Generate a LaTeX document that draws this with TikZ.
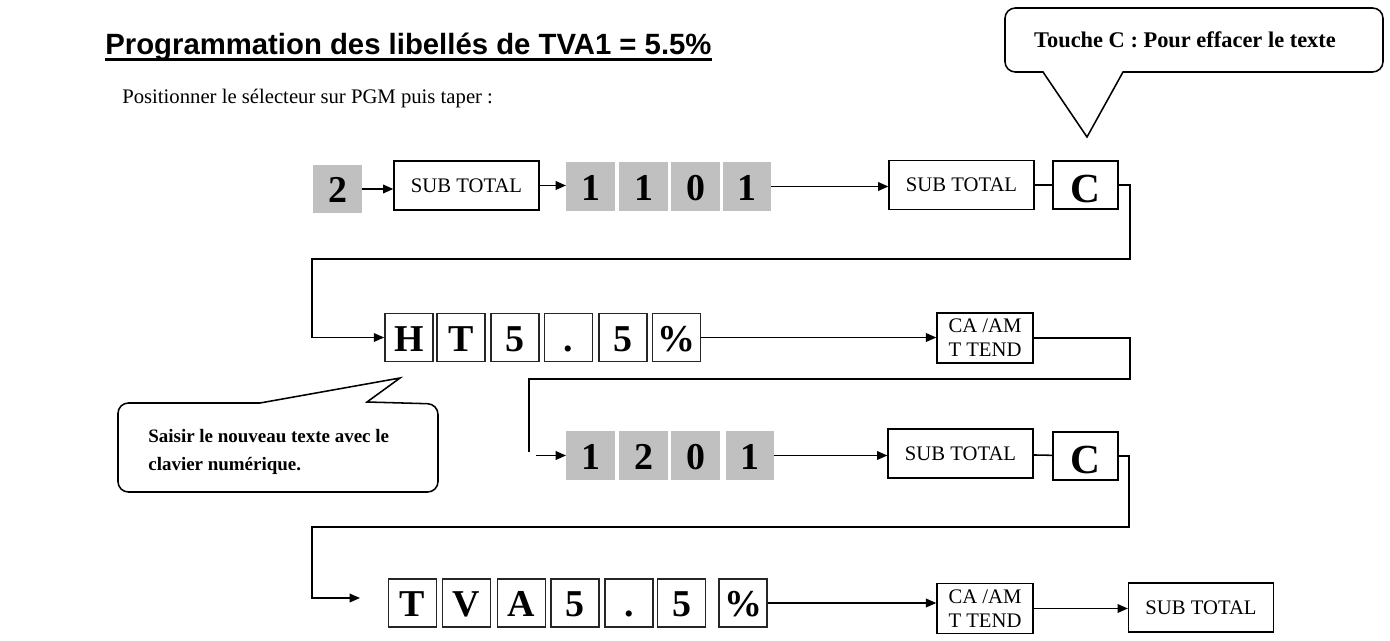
\documentclass[tikz,border=0pt]{standalone}
\usepackage{fontspec}
\setmainfont{Liberation Serif}
\setsansfont{Liberation Sans}
\newcommand{\ulbar}[1]{\setbox0\hbox{#1}\rlap{\rule[-3.5pt]{\wd0}{1.6pt}}\box0}
\usetikzlibrary{arrows.meta}
\definecolor{keygray}{RGB}{192,192,192}
\tikzset{
  graykey/.style={fill=keygray, inner sep=0pt, minimum width=28pt, minimum height=28pt,
    text height=16pt, text depth=0pt, font=\fontsize{22}{24}\selectfont\bfseries},
  letterkey/.style={draw=black!85, line width=0.8pt, inner sep=0pt, minimum width=28pt, minimum height=28pt,
    text height=16pt, text depth=0pt, font=\fontsize{22}{24}\selectfont\bfseries},
  funckey/.style={draw, line width=0.8pt, inner sep=0pt, minimum width=84pt, minimum height=28.4pt},
  ckey/.style={draw, line width=0.8pt, inner sep=0pt, minimum width=37.7pt, minimum height=27.8pt,
    text height=20pt, text depth=0pt, font=\fontsize{24}{26}\selectfont\bfseries},
  cakey/.style={draw, line width=0.8pt, inner sep=0pt, minimum width=55.7pt, minimum height=29pt,
    align=center, font=\fontsize{12}{14}\selectfont},
  link/.style={line width=0.9pt},
  flow/.style={line width=0.9pt, -{Triangle[length=6pt,width=5pt]}},
  bubble/.style={line width=0.9pt},
}
\begin{document}
\begin{tikzpicture}[x=0.58pt, y=-0.58pt, font=\fontsize{12}{14}\selectfont]
\useasboundingbox (0,0) rectangle (1390,641);
	%title
	\node[anchor=base west, inner sep=0pt, font=\fontsize{17}{20}\selectfont\sffamily\bfseries] (title) at (105,55)
		{\ulbar{Programmation des libellés de TVA1 = 5.5\%}};
	\node[anchor=base west, inner sep=0pt] (intro) at (122,104) {Positionner le sélecteur sur PGM puis taper :};

	%row 1
	\node[graykey] (k2) at (337.5,189) {2};
	\node[funckey] (st1) at (466.5,185.5) {SUB TOTAL};
	\foreach \k/\x [count=\i] in {1/590.5,1/643.5,0/695.5,1/747}
		\node[graykey] (a\i) at (\x,186.5) {\k};
	\node[funckey] (st2) at (961.5,185) {SUB TOTAL};
	\node[ckey] (c1) at (1085.5,185) {C};

	%row 2
	\foreach \k/\x [count=\i] in {H/409,T/461,5/515,./568.5,5/623,\%/676.5}
		\node[letterkey] (b\i) at (\x,337.5) {\k};
	\node[cakey] (ca1) at (985,338) {CA /AM\\T TEND};

	%row 3
	\foreach \k/\x [count=\i] in {1/590.5,2/643.5,0/695.5,1/750}
		\node[graykey] (d\i) at (\x,455.5) {\k};
	\node[funckey] (st3) at (960.5,453.5) {SUB TOTAL};
	\node[ckey] (c2) at (1085.5,456) {C};

	%row 4
	\foreach \k/\x [count=\i] in {T/412.5,V/466.5,A/521.5,5/575,./629,5/681.5,\%/743}
		\node[letterkey] (e\i) at (\x,603) {\k};
	\node[cakey] (ca2) at (985,608.5) {CA /AM\\T TEND};
	\node[funckey] (st4) at (1201,607.5) {SUB TOTAL};

	%turns
	\coordinate (r1) at (1130,259);
	\coordinate (l1) at (312,259);
	\coordinate (r2) at (1130,379);
	\coordinate (l2) at (529,379);
	\coordinate (e2) at (529,452);
	\coordinate (s3) at (536,455.5);
	\coordinate (r3) at (1129,527);
	\coordinate (l3) at (312,527);
	\coordinate (e4) at (360,598);

	%links
	\draw[flow] (k2.east) -- (k2.east -| st1.west);
	\draw[flow] (st1.east) -- (st1.east -| a1.west);
	\draw[flow] (a4.east) -- (a4.east -| st2.west);
	\draw[link] (st2) -- (c1);
	\draw[flow] (c1.east) -| (r1) -- (l1) |- (b1.west);
	\draw[flow] (b6.east) -- (b6.east -| ca1.west);
	\draw[link] (ca1.east) -| (r2) -- (l2) -- (e2);
	\draw[flow] (s3) -- (d1.west);
	\draw[flow] (d4.east) -- (d4.east -| st3.west);
	\draw[link] (st3) -- (c2);
	\draw[flow] (c2.east) -| (r3) -- (l3) |- (e4);
	\draw[flow] (e7.east) -- (e7.east -| ca2.west);
	\draw[flow] (ca2.east) -- (ca2.east -| st4.west);

	%callouts
	\draw[bubble] (1123,72) [rounded corners=6pt] -- (1383,72) -- (1383,8) -- (1005,8) -- (1005,72)
		[sharp corners] -- (1043,72) -- (1087,137) -- cycle;
	\node[font=\fontsize{13}{15}\selectfont\bfseries] (tipc) at (1185,40) {Touche C : Pour effacer le texte};
	\draw[bubble] (367,402) [rounded corners=6pt] -- (438,404) -- (438,492) -- (118,492) -- (118,403)
		[sharp corners] -- (260,403) -- (400,378) -- cycle;
	\node[anchor=west, align=left, inner sep=0pt, font=\fontsize{11}{16}\selectfont\bfseries] (tipn) at (148,452)
		{Saisir le nouveau texte avec le\\clavier numérique.};
\end{tikzpicture}
\end{document}
